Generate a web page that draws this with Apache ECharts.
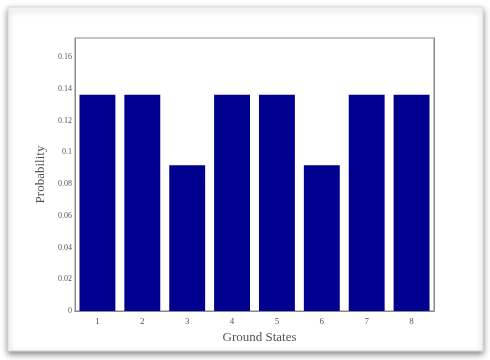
<!DOCTYPE html>
<html><head><meta charset="utf-8">
<script src="https://cdn.jsdelivr.net/npm/echarts@6/dist/echarts.min.js"></script>
<style>html,body{margin:0;padding:0;background:#fff}#c{width:490px;height:360px}</style>
</head><body><div id="c"></div>
<script>
const categories = ['1','2','3','4','5','6','7','8'];
const probability = [0.1362, 0.1362, 0.0918, 0.1362, 0.1362, 0.0918, 0.1362, 0.1362];
const yTicks = [0, 0.02, 0.04, 0.06, 0.08, 0.1, 0.12, 0.14, 0.16];
const xTitle = 'Ground States';
const yTitle = 'Probability';

const chart = echarts.init(document.getElementById('c'), null, {renderer:'canvas'});
const serif = '"Liberation Serif", "DejaVu Serif", serif';
const axisGrey = '#8a8a8a';
const tickStyle = {inside:true, length:4, lineStyle:{color:axisGrey, width:1}};
chart.setOption({
  animation:false,
  backgroundColor:'#fff',
  graphic:[
    {type:'rect', z:-10, shape:{x:8, y:7, width:475, height:344},
     style:{fill:'#fff', stroke:'#d8d8d8', lineWidth:1, shadowBlur:6, shadowColor:'rgba(0,0,0,0.45)', shadowOffsetX:0, shadowOffsetY:3}},
  ],
  grid:{left:75, top:38, width:359, height:273, show:true, borderColor:axisGrey, borderWidth:1, backgroundColor:'transparent'},
  xAxis:[
    {type:'category', data:categories, position:'bottom',
     axisLine:{show:true, lineStyle:{color:axisGrey}},
     axisTick:Object.assign({alignWithLabel:true}, tickStyle),
     axisLabel:{color:'#555', fontFamily:serif, fontSize:9, margin:6},
     name:xTitle, nameLocation:'middle', nameGap:17,
     nameTextStyle:{color:'#555', fontFamily:serif, fontSize:13, padding:[0,0,0,10]}},
    {type:'category', data:categories, position:'top',
     axisLine:{show:true, lineStyle:{color:axisGrey}},
     axisTick:Object.assign({alignWithLabel:true}, tickStyle),
     axisLabel:{show:false}}
  ],
  yAxis:[
    {type:'value', min:0, max:0.172, interval:0.02, position:'left',
     splitLine:{show:false},
     axisLine:{show:true, lineStyle:{color:axisGrey}},
     axisTick:tickStyle,
     axisLabel:{color:'#555', fontFamily:serif, fontSize:8, margin:3, showMaxLabel:false,
       formatter:v => yTicks.some(t => Math.abs(t - v) < 1e-9) ? String(+v.toFixed(2)) : ''},
     name:yTitle, nameLocation:'middle', nameGap:26,
     nameTextStyle:{color:'#555', fontFamily:serif, fontSize:13}},
    {type:'value', min:0, max:0.172, interval:0.02, position:'right',
     splitLine:{show:false},
     axisLine:{show:true, lineStyle:{color:axisGrey}},
     axisTick:tickStyle, axisLabel:{show:false}}
  ],
  series:[{
    type:'bar', data:probability, xAxisIndex:0, yAxisIndex:0,
    barCategoryGap:'20%',
    itemStyle:{color:'#00008F'}
  }]
});
</script></body></html>
